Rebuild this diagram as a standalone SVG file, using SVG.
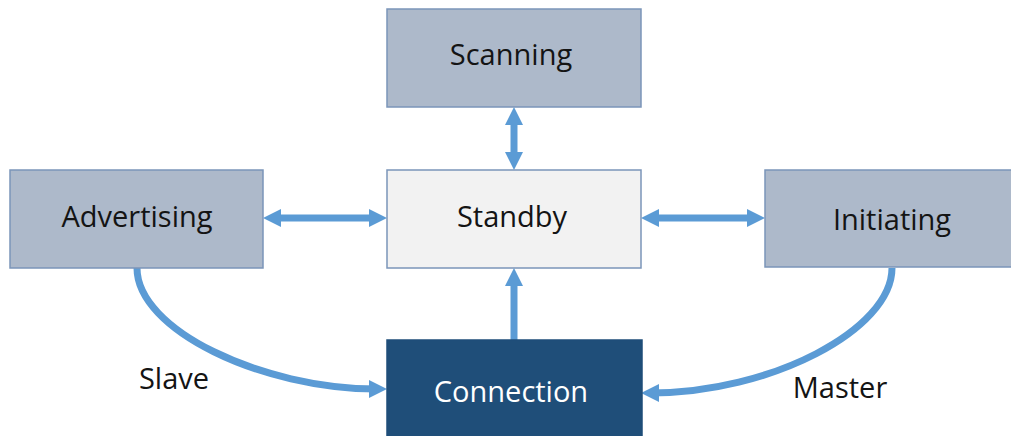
<svg xmlns="http://www.w3.org/2000/svg" width="1011" height="436" viewBox="0 0 1011 436">
  <style>
    .box { stroke: #7b95b9; stroke-width: 1.5; }
    .state { fill: #adb9ca; }
    .idle { fill: #f2f2f2; }
    .conn { fill: #1f4e79; stroke: #1f4e79; }
    .label { font-family: "Open Sans", "Noto Sans", sans-serif; font-size: 29px; fill: #141414; text-anchor: middle; }
    .light { fill: #ffffff; }
    .link { fill: none; stroke: #5b9bd5; stroke-width: 7; }
  </style>
  <defs>
    <marker id="head" markerUnits="userSpaceOnUse" markerWidth="18" markerHeight="18" refX="8" refY="9" orient="auto-start-reverse" viewBox="0 0 18 18">
      <path d="M0,0 L18,9 L0,18 z" fill="#5b9bd5"/>
    </marker>
  </defs>

  <rect width="1011" height="436" fill="#ffffff"/>

  <!-- connectors -->
  <g id="connectors">
    <line class="link" x1="514" y1="117" x2="514" y2="160" marker-start="url(#head)" marker-end="url(#head)"/>
    <line class="link" x1="273" y1="218" x2="377" y2="218" marker-start="url(#head)" marker-end="url(#head)"/>
    <line class="link" x1="651" y1="218" x2="755" y2="218" marker-start="url(#head)" marker-end="url(#head)"/>
    <line class="link" x1="514" y1="340" x2="514" y2="278" marker-end="url(#head)"/>
    <path class="link" d="M137,268 C137,330 262,389 377,389" marker-end="url(#head)"/>
    <path class="link" d="M892,268 C892,330 770,393 651,393" marker-end="url(#head)"/>
    <text class="label" x="174" y="389">Slave</text>
    <text class="label" x="840" y="398">Master</text>
  </g>

  <!-- states -->
  <g id="scanning">
    <rect class="box state" x="387" y="9" width="254" height="98"/>
    <text class="label" x="511" y="65">Scanning</text>
  </g>
  <g id="standby">
    <rect class="box idle" x="387" y="170" width="254" height="98"/>
    <text class="label" x="512" y="227">Standby</text>
  </g>
  <g id="advertising">
    <rect class="box state" x="10" y="170" width="253" height="98"/>
    <text class="label" x="137" y="227">Advertising</text>
  </g>
  <g id="initiating">
    <rect class="box state" x="765" y="170" width="260" height="97"/>
    <text class="label" x="892" y="230">Initiating</text>
  </g>
  <g id="connection">
    <rect class="box conn" x="387" y="340" width="255" height="110"/>
    <text class="label light" x="511" y="402">Connection</text>
  </g>
</svg>
